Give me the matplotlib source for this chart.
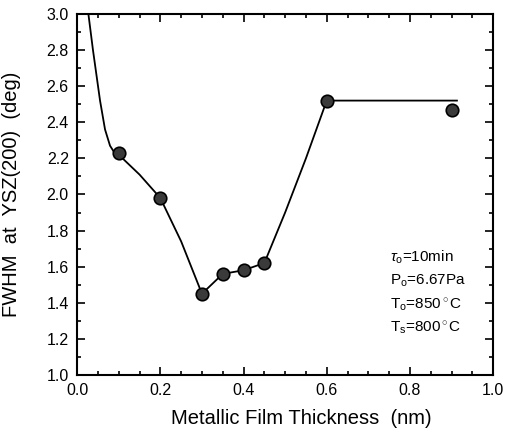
import matplotlib
matplotlib.use("Agg")
from matplotlib import pyplot as plt
from matplotlib.ticker import MultipleLocator
import numpy as np

# measured points
thickness = np.array([0.10, 0.20, 0.30, 0.35, 0.40, 0.45, 0.60, 0.90])
fwhm = np.array([2.23, 1.98, 1.45, 1.56, 1.58, 1.62, 2.52, 2.47])

# guide line as drawn in the figure
line_x = np.array([0.027, 0.038, 0.055, 0.067, 0.079, 0.090, 0.10, 0.15, 0.20,
                   0.25, 0.30, 0.35, 0.40, 0.45, 0.50, 0.55, 0.60, 0.913])
line_y = np.array([3.00, 2.80, 2.52, 2.36, 2.27, 2.23, 2.22, 2.11, 1.98,
                   1.74, 1.45, 1.56, 1.58, 1.62, 1.90, 2.20, 2.52, 2.52])

conditions = [r"$\tau_\mathrm{o}$=10min", r"P$_\mathrm{o}$=6.67Pa",
              r"T$_\mathrm{o}$=850$^\circ$C", r"T$_\mathrm{s}$=800$^\circ$C"]

plt.rcParams['font.family'] = ['Liberation Sans', 'DejaVu Sans']
plt.rcParams['mathtext.fontset'] = 'custom'
plt.rcParams['mathtext.rm'] = 'Liberation Sans'
plt.rcParams['mathtext.it'] = 'Liberation Sans:italic'

fig, ax = plt.subplots(figsize=(5.11, 4.36), dpi=100)
fig.subplots_adjust(left=0.151, right=0.965, top=0.968, bottom=0.14)

ax.plot(line_x, line_y, color="black", linewidth=1.3, zorder=2)
ax.plot(thickness, fwhm, linestyle="none", marker="o", markersize=9,
        markerfacecolor="#3a3a3a", markeredgecolor="black", markeredgewidth=1.2, zorder=3)

for i, txt in enumerate(conditions):
    ax.text(0.752, 1.65 - i * 0.13, txt, fontsize=11, va="center", ha="left")

ax.set_xlim(0, 1.0)
ax.set_ylim(1.0, 3.0)
ax.xaxis.set_major_locator(MultipleLocator(0.2))
ax.xaxis.set_minor_locator(MultipleLocator(0.05))
ax.yaxis.set_major_locator(MultipleLocator(0.2))
ax.yaxis.set_minor_locator(MultipleLocator(0.1))
ax.xaxis.set_major_formatter(lambda v, p: f"{v:.1f}")
ax.yaxis.set_major_formatter(lambda v, p: f"{v:.1f}")
ax.tick_params(which="both", direction="in", top=True, right=True, labelsize=11.5, width=1.2)
ax.tick_params(which="major", length=6, pad=6)
ax.tick_params(which="minor", length=3)
for s in ax.spines.values():
    s.set_linewidth(1.5)

ax.set_xlabel("Metallic Film Thickness  (nm)", fontsize=14.5, labelpad=4)
ax.xaxis.set_label_coords(0.54, -0.095)
ax.set_ylabel("FWHM  at  YSZ(200)  (deg)", fontsize=14.5)
ax.yaxis.set_label_coords(-0.135, 0.5)

fig.savefig("out.png", dpi=100)
